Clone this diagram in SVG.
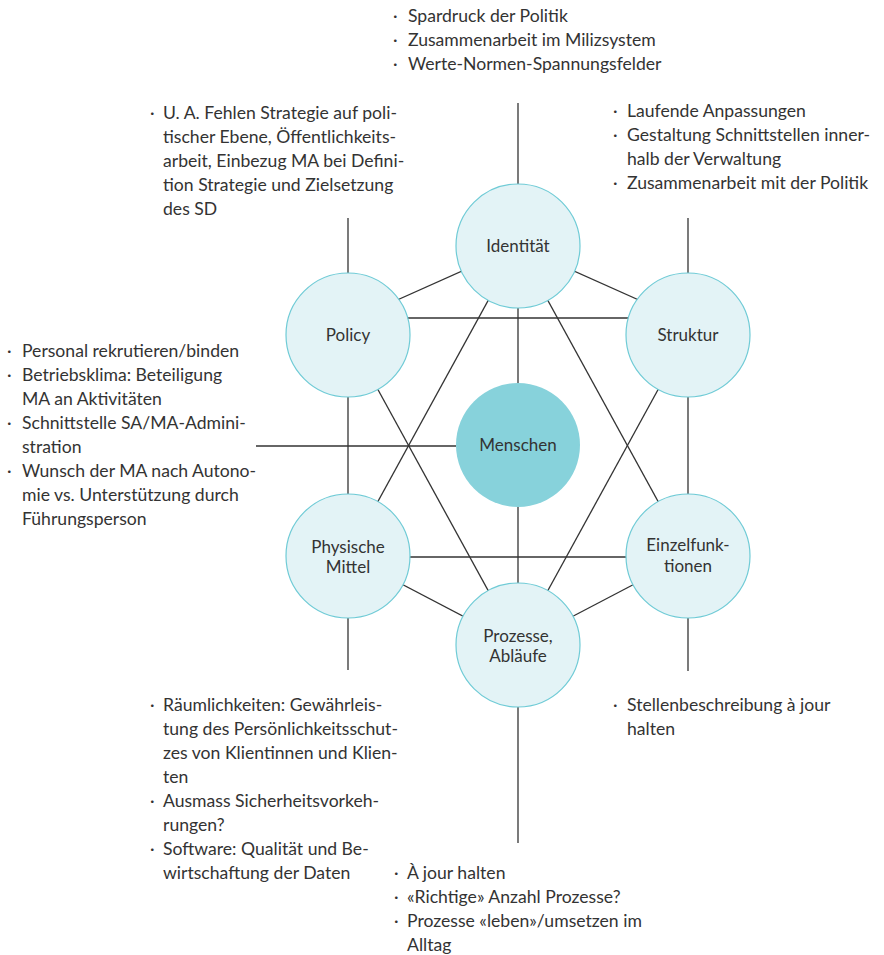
<svg xmlns="http://www.w3.org/2000/svg" width="884" height="955" viewBox="0 0 884 955">
  <style>
    .bg { fill: #ffffff; }
    .edge { stroke: #333333; stroke-width: 1.3; fill: none; }
    .node { fill: #e3f3f6; stroke: #6fcbd6; stroke-width: 1.2; }
    .core { fill: #87d2db; stroke: none; }
    .lbl { font-family: Lato, "Open Sans", "Liberation Sans", sans-serif; font-size: 17px; fill: #333333; text-anchor: middle; }
    .note { font-family: Lato, "Open Sans", "Liberation Sans", sans-serif; font-size: 17.6px; fill: #333333; }
  </style>
  <rect class="bg" x="0" y="0" width="884" height="955"/>

  <!-- connectors drawn first so the circles cover their ends -->
  <g id="connectors">
    <!-- leader lines to the note blocks -->
    <line class="edge" x1="518" y1="103" x2="518" y2="184"/>
    <line class="edge" x1="348" y1="218" x2="348" y2="273"/>
    <line class="edge" x1="688" y1="218" x2="688" y2="273"/>
    <line class="edge" x1="256" y1="446" x2="456" y2="446"/>
    <line class="edge" x1="348" y1="618" x2="348" y2="670"/>
    <line class="edge" x1="688" y1="618" x2="688" y2="671"/>
    <line class="edge" x1="518" y1="707" x2="518" y2="843"/>
    <!-- central axis -->
    <line class="edge" x1="518" y1="246" x2="518" y2="645"/>
    <!-- outer hexagon -->
    <line class="edge" x1="518" y1="246" x2="348" y2="322"/>
    <line class="edge" x1="518" y1="246" x2="688" y2="322"/>
    <line class="edge" x1="348" y1="335" x2="348" y2="556"/>
    <line class="edge" x1="688" y1="335" x2="688" y2="556"/>
    <line class="edge" x1="348" y1="556" x2="518" y2="645"/>
    <line class="edge" x1="688" y1="556" x2="518" y2="645"/>
    <!-- triangles -->
    <line class="edge" x1="348" y1="318" x2="688" y2="318"/>
    <line class="edge" x1="348" y1="335" x2="518" y2="645"/>
    <line class="edge" x1="688" y1="335" x2="518" y2="645"/>
    <line class="edge" x1="348" y1="557" x2="688" y2="557"/>
    <line class="edge" x1="518" y1="246" x2="348" y2="556"/>
    <line class="edge" x1="518" y1="246" x2="688" y2="556"/>
  </g>

  <g id="identitaet">
    <circle class="node" cx="518" cy="246" r="62"/>
    <text class="lbl" x="518" y="252">Identität</text>
  </g>
  <g id="policy">
    <circle class="node" cx="348" cy="335" r="62"/>
    <text class="lbl" x="348" y="341">Policy</text>
  </g>
  <g id="struktur">
    <circle class="node" cx="688" cy="335" r="62"/>
    <text class="lbl" x="688" y="341">Struktur</text>
  </g>
  <g id="menschen">
    <circle class="core" cx="518" cy="445" r="62"/>
    <text class="lbl" x="518" y="451">Menschen</text>
  </g>
  <g id="physische-mittel">
    <circle class="node" cx="348" cy="556" r="62"/>
    <text class="lbl" x="348" y="553">Physische</text>
    <text class="lbl" x="348" y="573">Mittel</text>
  </g>
  <g id="einzelfunktionen">
    <circle class="node" cx="688" cy="556" r="62"/>
    <text class="lbl" x="688" y="551">Einzelfunk-</text>
    <text class="lbl" x="688" y="572">tionen</text>
  </g>
  <g id="prozesse">
    <circle class="node" cx="518" cy="645" r="62"/>
    <text class="lbl" x="518" y="642">Prozesse,</text>
    <text class="lbl" x="518" y="662">Abläufe</text>
  </g>

  <!-- note blocks -->
  <g id="notes-identitaet">
    <text class="note" x="393" y="22">·</text>
    <text class="note" x="408" y="22">Spardruck der Politik</text>
    <text class="note" x="393" y="46">·</text>
    <text class="note" x="408" y="46">Zusammenarbeit im Milizsystem</text>
    <text class="note" x="393" y="70">·</text>
    <text class="note" x="408" y="70">Werte-Normen-Spannungsfelder</text>
  </g>
  <g id="notes-policy">
    <text class="note" x="150" y="119">·</text>
    <text class="note" x="163" y="119">U. A. Fehlen Strategie auf poli-</text>
    <text class="note" x="163" y="143">tischer Ebene, Öffentlichkeits-</text>
    <text class="note" x="163" y="167">arbeit, Einbezug MA bei Defini-</text>
    <text class="note" x="163" y="191">tion Strategie und Zielsetzung</text>
    <text class="note" x="163" y="215">des SD</text>
  </g>
  <g id="notes-struktur">
    <text class="note" x="613" y="117">·</text>
    <text class="note" x="627" y="117">Laufende Anpassungen</text>
    <text class="note" x="613" y="141">·</text>
    <text class="note" x="627" y="141">Gestaltung Schnittstellen inner-</text>
    <text class="note" x="627" y="165">halb der Verwaltung</text>
    <text class="note" x="613" y="189">·</text>
    <text class="note" x="627" y="189">Zusammenarbeit mit der Politik</text>
  </g>
  <g id="notes-menschen">
    <text class="note" x="7" y="357">·</text>
    <text class="note" x="22" y="357">Personal rekrutieren/binden</text>
    <text class="note" x="7" y="381">·</text>
    <text class="note" x="22" y="381">Betriebsklima: Beteiligung</text>
    <text class="note" x="22" y="405">MA an Aktivitäten</text>
    <text class="note" x="7" y="429">·</text>
    <text class="note" x="22" y="429">Schnittstelle SA/MA-Admini-</text>
    <text class="note" x="22" y="453">stration</text>
    <text class="note" x="7" y="477">·</text>
    <text class="note" x="22" y="477">Wunsch der MA nach Autono-</text>
    <text class="note" x="22" y="501">mie vs. Unterstützung durch</text>
    <text class="note" x="22" y="525">Führungsperson</text>
  </g>
  <g id="notes-physische-mittel">
    <text class="note" x="150" y="711">·</text>
    <text class="note" x="163" y="711">Räumlichkeiten: Gewährleis-</text>
    <text class="note" x="163" y="735">tung des Persönlichkeitsschut-</text>
    <text class="note" x="163" y="759">zes von Klientinnen und Klien-</text>
    <text class="note" x="163" y="783">ten</text>
    <text class="note" x="150" y="807">·</text>
    <text class="note" x="163" y="807">Ausmass Sicherheitsvorkeh-</text>
    <text class="note" x="163" y="831">rungen?</text>
    <text class="note" x="150" y="855">·</text>
    <text class="note" x="163" y="855">Software: Qualität und Be-</text>
    <text class="note" x="163" y="879">wirtschaftung der Daten</text>
  </g>
  <g id="notes-einzelfunktionen">
    <text class="note" x="613" y="711">·</text>
    <text class="note" x="627" y="711">Stellenbeschreibung à jour</text>
    <text class="note" x="627" y="735">halten</text>
  </g>
  <g id="notes-prozesse">
    <text class="note" x="394" y="879">·</text>
    <text class="note" x="407" y="879">À jour halten</text>
    <text class="note" x="394" y="903">·</text>
    <text class="note" x="407" y="903">«Richtige» Anzahl Prozesse?</text>
    <text class="note" x="394" y="927">·</text>
    <text class="note" x="407" y="927">Prozesse «leben»/umsetzen im</text>
    <text class="note" x="407" y="951">Alltag</text>
  </g>
</svg>
